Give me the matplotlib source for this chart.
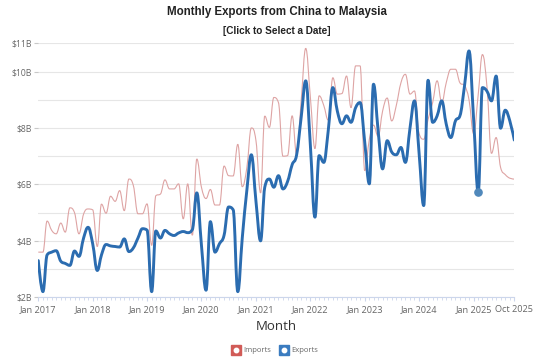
import matplotlib
matplotlib.use("Agg")

import matplotlib.dates as mdates
import matplotlib.pyplot as plt
import numpy as np
import pandas as pd
from matplotlib.legend_handler import HandlerTuple
from matplotlib.lines import Line2D
from matplotlib.patches import PathPatch
from matplotlib.path import Path
from matplotlib.ticker import FixedLocator, NullFormatter


# monthly values, billions of US dollars
months = pd.date_range("2017-01-01", "2025-10-01", freq="MS")

exports = [
    3.3, 2.2, 3.5, 3.6, 3.65, 3.28, 3.2, 3.13, 3.64, 3.45, 4.1, 4.48,
    3.9, 2.95, 3.5, 3.87, 3.82, 3.8, 3.78, 4.07, 3.62, 3.75, 4.1, 4.43,
    4.38, 2.2, 4.35, 4.1, 4.37, 4.25, 4.19, 4.28, 4.33, 4.29, 4.4, 5.7,
    3.85, 2.25, 4.68, 3.6, 3.9, 4.2, 5.2, 5.1, 2.2, 4.1, 5.8, 7.05,
    5.4, 4.0, 5.9, 6.19, 5.9, 6.31, 5.84, 6.1, 6.7, 7.05, 8.4, 9.67,
    7.4, 4.84, 7.02, 6.78, 7.9, 9.43, 8.6, 8.15, 8.43, 8.2, 8.72, 8.9,
    7.5, 6.02, 9.55, 7.9, 6.55, 7.55, 7.15, 7.05, 7.31, 6.78, 8.0, 8.96,
    7.1, 5.25, 9.69, 8.2, 8.43, 8.96, 8.14, 7.66, 8.25, 8.43, 9.5, 10.73,
    8.3, 5.72, 9.43, 9.3, 8.96, 9.84, 7.99, 8.63, 8.25, 7.57,
]

imports = [
    3.6, 3.6, 4.7, 4.37, 4.25, 4.63, 4.31, 5.17, 5.0, 4.25, 4.95, 5.13,
    5.1, 3.8, 5.3, 4.98, 5.58, 5.4, 5.78, 5.07, 6.19, 5.96, 4.96, 4.96,
    5.31, 3.84, 5.6, 5.66, 6.16, 5.84, 5.84, 6.02, 4.78, 6.02, 4.2, 6.9,
    5.9, 5.5, 5.82, 5.27, 5.27, 6.65, 6.31, 6.3, 7.42, 5.92, 6.6, 8.0,
    7.55, 5.7, 8.42, 8.02, 9.08, 8.9, 7.0, 7.02, 8.43, 7.05, 9.0, 10.82,
    9.1, 7.27, 9.14, 8.8, 8.28, 9.78, 9.2, 9.22, 9.84, 8.72, 10.2, 10.2,
    6.49, 7.6, 8.1, 7.7, 8.6, 9.06, 8.25, 8.8, 9.6, 9.9, 9.2, 9.31,
    7.8, 7.6, 8.3, 8.9, 9.67, 8.9, 9.6, 10.08, 10.08, 9.6, 9.5, 9.0,
    7.8, 9.2, 10.6, 9.43, 7.1, 7.66, 6.6, 6.35, 6.22, 6.19,
]

highlight = pd.Timestamp("2025-02-01")

y_major = [2, 4, 6, 8, 10, 11]
y_minor = [3, 5, 7, 9]

EXPORT_COLOR = "#2b6cb0"
IMPORT_COLOR = "#dea4a4"


def spline_path(x, y, smoothing=1.5):
    # same control point rule as a highcharts spline series
    denom = smoothing + 1
    n = len(x)
    left = [None] * n
    right = [None] * n
    right[0] = (x[0], y[0])
    left[-1] = (x[-1], y[-1])
    for i in range(1, n - 1):
        px, py = x[i], y[i]
        lx, ly = x[i - 1], y[i - 1]
        nx, ny = x[i + 1], y[i + 1]
        lcx = (smoothing * px + lx) / denom
        lcy = (smoothing * py + ly) / denom
        rcx = (smoothing * px + nx) / denom
        rcy = (smoothing * py + ny) / denom
        corr = (rcy - lcy) * (rcx - px) / (rcx - lcx) + py - rcy
        lcy += corr
        rcy += corr
        if lcy > ly and lcy > py:
            lcy = max(ly, py)
            rcy = 2 * py - lcy
        elif lcy < ly and lcy < py:
            lcy = min(ly, py)
            rcy = 2 * py - lcy
        if rcy > ny and rcy > py:
            rcy = max(ny, py)
            lcy = 2 * py - rcy
        elif rcy < ny and rcy < py:
            rcy = min(ny, py)
            lcy = 2 * py - rcy
        left[i] = (lcx, lcy)
        right[i] = (rcx, rcy)
    verts = [(x[0], y[0])]
    codes = [Path.MOVETO]
    for i in range(1, n):
        verts += [right[i - 1], left[i], (x[i], y[i])]
        codes += [Path.CURVE4] * 3
    return Path(verts, codes)


x = mdates.date2num(months)

fig = plt.figure(figsize=(5.5, 3.6), dpi=100)
ax = fig.add_axes([38.3 / 550, 62.7 / 360, 476.0 / 550, 254.0 / 360])

ax.add_patch(PathPatch(spline_path(x, np.array(imports)), facecolor="none",
                       edgecolor=IMPORT_COLOR, lw=0.8, zorder=3))
ax.add_patch(PathPatch(spline_path(x, np.array(exports)), facecolor="none",
                       edgecolor=EXPORT_COLOR, lw=2.1, zorder=4,
                       capstyle="round", joinstyle="round"))

hi = list(months).index(highlight)
ax.plot(x[hi], exports[hi], "o", ms=5.2, color="#5088bb", zorder=5)

ax.set_xlim(x[0], x[-1])
ax.set_ylim(y_major[0], y_major[-1])

for s in ("top", "right", "left"):
    ax.spines[s].set_visible(False)
ax.spines["bottom"].set_color("#ccd6eb")
ax.spines["bottom"].set_linewidth(0.8)

# y axis
ax.yaxis.set_major_locator(FixedLocator(y_major))
ax.yaxis.set_minor_locator(FixedLocator(y_minor))
ax.set_yticklabels([f"${v}B" for v in y_major])
ax.yaxis.set_minor_formatter(NullFormatter())
ax.tick_params(axis="y", which="major", length=3, width=0.8, color="#c8c8c8",
               pad=1.5, labelsize=6.2, labelcolor="#666666")
ax.tick_params(axis="y", which="minor", length=0)
ax.grid(axis="y", which="both", color="#e6e6e6", lw=0.8, zorder=0)

# x axis
jan_idx = list(range(0, len(months), 12)) + [len(months) - 1]
ax.xaxis.set_major_locator(FixedLocator(x[jan_idx]))
ax.set_xticklabels([months[i].strftime("%b %Y") for i in jan_idx])
ax.xaxis.set_minor_locator(FixedLocator(x))
ax.tick_params(axis="x", which="major", length=3, width=0.8, color="#ccd6eb",
               pad=2.5, labelsize=6.6, labelcolor="#666666")
ax.tick_params(axis="x", which="minor", length=2, width=0.6, color="#ccd6eb")

for lab in ax.get_xticklabels() + ax.get_yticklabels():
    lab.set_fontfamily("Open Sans")

fig.text(277 / 550, 1 - 12.5 / 360, "Monthly Exports from China to Malaysia",
         ha="center", va="center", fontsize=8.3, fontweight="bold",
         family="Liberation Sans", color="#222222")
fig.text(277 / 550, 1 - 31.5 / 360, "[Click to Select a Date]",
         ha="center", va="center", fontsize=7.2, fontweight="bold",
         family="Liberation Sans", color="#222222")
fig.text(276.5 / 550, 1 - 327 / 360, "Month", ha="center", va="center",
         fontsize=9.5, family="Open Sans", color="#333333")

h_imp = (Line2D([], [], ls="none", marker="s", ms=7.5, color="#d15b57"),
         Line2D([], [], ls="none", marker="o", ms=3.2, color="white"))
h_exp = (Line2D([], [], ls="none", marker="s", ms=7.5, color="#3b7cc0"),
         Line2D([], [], ls="none", marker="o", ms=3.2, color="white"))
leg = fig.legend([h_imp, h_exp], ["Imports", "Exports"],
                 handler_map={tuple: HandlerTuple(ndivide=1, pad=0)},
                 loc="center", bbox_to_anchor=(275 / 550, 1 - 350.5 / 360),
                 ncol=2, frameon=False, fontsize=5.5, handlelength=1.0,
                 handletextpad=0.4, columnspacing=1.2)
for t in leg.get_texts():
    t.set_color("#666666")
    t.set_fontfamily("Open Sans")

fig.savefig("out.png", dpi=100)
